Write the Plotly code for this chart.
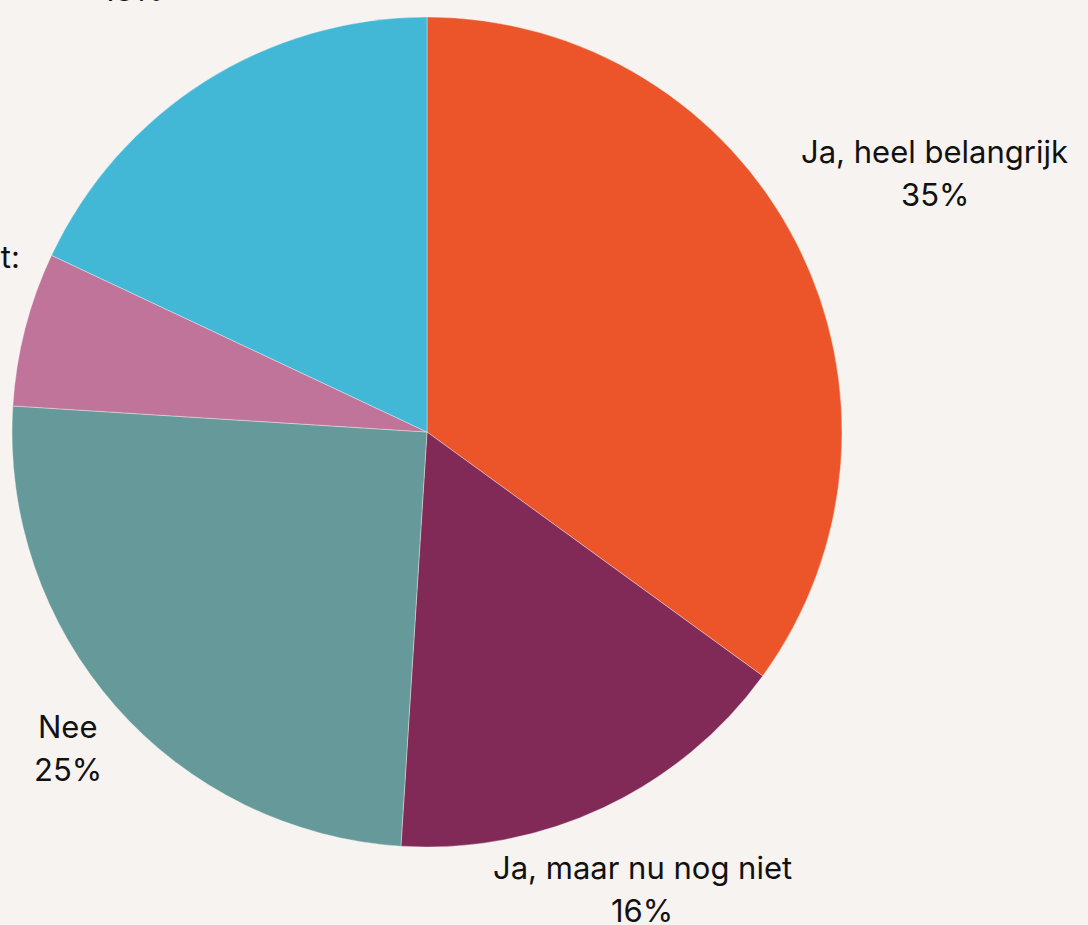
import math
import plotly.graph_objects as go

categories = ["Ja, heel belangrijk", "Ja, maar nu nog niet", "Nee", "Weet ik nog niet:", "Anders"]
values = [35, 16, 25, 6, 18]
colors = ["#EB5529", "#822A57", "#66999A", "#C07499", "#42B7D6"]
label_dist = [570, 505, 478, 547, 549]  # px from centre to label block centre
label_dy = [0, 0, 0, -18, 0]            # small vertical nudges, px

W, H = 1088, 925
cx, cy, r = 427, 432, 415  # pie centre and radius in px (y from top)
BG = "#F7F3F0"

fig = go.Figure(go.Pie(
    labels=categories,
    values=values,
    sort=False,
    direction="clockwise",
    rotation=0,
    textinfo="none",
    hoverinfo="label+percent",
    marker=dict(colors=colors, line=dict(color="rgba(255,255,255,0.6)", width=0.6)),
    domain=dict(x=[(cx - r) / W, (cx + r) / W], y=[(H - cy - r) / H, (H - cy + r) / H]),
    showlegend=False,
))

total = sum(values)
cum = 0
annotations = []
for name, v, d, ddy in zip(categories, values, label_dist, label_dy):
    mid = (cum + v / 2) / total
    cum += v
    ang = math.radians(90 - mid * 360)
    lx = cx + d * math.cos(ang)
    ly = cy - d * math.sin(ang) + ddy
    pct = f"{round(v / total * 100)}%"
    for txt, off in ((name, -21.5), (pct, 21.5)):
        annotations.append(dict(
            x=lx / W, y=1 - (ly + off) / H, xref="paper", yref="paper",
            text=txt, showarrow=False, xanchor="center", yanchor="middle",
            font=dict(family="Inter, Roboto, sans-serif", size=31, color="#111111"),
        ))

fig.update_layout(
    width=W, height=H,
    margin=dict(l=0, r=0, t=0, b=0),
    paper_bgcolor=BG, plot_bgcolor=BG,
    annotations=annotations,
)
fig.write_html("out.html", config={"displayModeBar": False},
               post_script="document.body.style.margin='0';")
